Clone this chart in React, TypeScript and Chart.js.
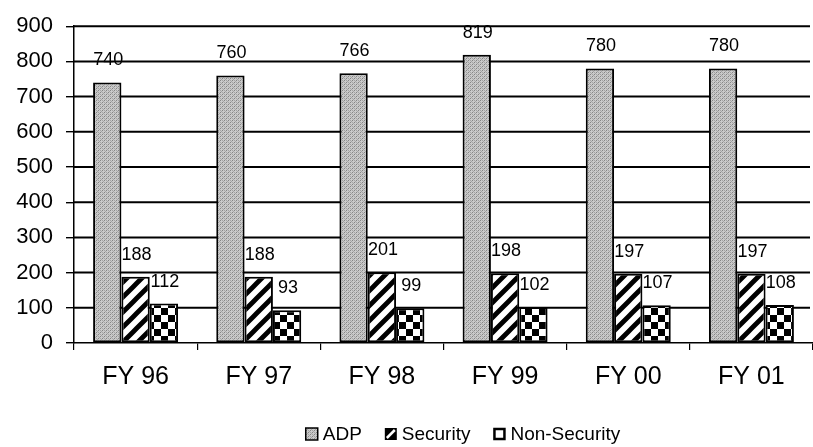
import React, { useEffect, useRef } from "react";
import { Chart, registerables } from "chart.js";

Chart.register(...registerables);

const categories = ["FY 96", "FY 97", "FY 98", "FY 99", "FY 00", "FY 01"];
const adpValues = [740, 760, 766, 819, 780, 780];
const securityValues = [188, 188, 201, 198, 197, 197];
const nonSecurityValues = [112, 93, 99, 102, 107, 108];
const seriesNames = ["ADP", "Security", "Non-Security"];
const yMax = 900;
const yStep = 100;

const FONT = "'Liberation Sans', Arial, Helvetica, sans-serif";

function makeTile(size: number, draw: (c: CanvasRenderingContext2D) => void) {
  const cv = document.createElement("canvas");
  cv.width = size;
  cv.height = size;
  const c = cv.getContext("2d")!;
  draw(c);
  return cv;
}

// grey stipple
function stipplePattern(ctx: CanvasRenderingContext2D) {
  const tile = makeTile(4, (c) => {
    c.fillStyle = "#cacaca";
    c.fillRect(0, 0, 4, 4);
    c.fillStyle = "#858585";
    c.fillRect(0, 0, 1, 1);
    c.fillRect(2, 2, 1, 1);
    c.fillStyle = "#a4a4a4";
    c.fillRect(2, 0, 1, 1);
    c.fillRect(0, 2, 1, 1);
    c.fillRect(1, 3, 1, 1);
    c.fillRect(3, 1, 1, 1);
  });
  return ctx.createPattern(tile, "repeat")!;
}

// wide forward diagonal stripes
function stripePattern(ctx: CanvasRenderingContext2D) {
  const s = 15;
  const tile = makeTile(s, (c) => {
    c.fillStyle = "#fff";
    c.fillRect(0, 0, s, s);
    c.strokeStyle = "#000";
    c.lineWidth = 4.8;
    c.beginPath();
    c.moveTo(-s, s * 2);
    c.lineTo(s * 2, -s);
    c.moveTo(-s, s);
    c.lineTo(s, -s);
    c.moveTo(0, s * 2);
    c.lineTo(s * 2, 0);
    c.stroke();
  });
  return ctx.createPattern(tile, "repeat")!;
}

// large checkerboard
function checkerPattern(ctx: CanvasRenderingContext2D) {
  const q = 7;
  const tile = makeTile(q * 2, (c) => {
    c.fillStyle = "#fff";
    c.fillRect(0, 0, q * 2, q * 2);
    c.fillStyle = "#000";
    c.fillRect(q, 0, q, q);
    c.fillRect(0, q, q, q);
  });
  return ctx.createPattern(tile, "repeat")!;
}

// horizontal value lines across the plot, drawn beneath the bars
const valueGrid = {
  id: "valueGrid",
  beforeDatasetsDraw(chart: any) {
    const ctx = chart.ctx as CanvasRenderingContext2D;
    const area = chart.chartArea;
    const y = chart.scales.y;
    ctx.save();
    ctx.strokeStyle = "#000000";
    ctx.lineWidth = 2;
    for (let v = yStep; v <= yMax; v += yStep) {
      const py = y.getPixelForValue(v);
      ctx.beginPath();
      ctx.moveTo(area.left, py);
      ctx.lineTo(area.right - 3, py);
      ctx.stroke();
    }
    ctx.restore();
  },
};

const valueLabels = {
  id: "valueLabels",
  afterDatasetsDraw(chart: any) {
    const ctx = chart.ctx as CanvasRenderingContext2D;
    ctx.save();
    ctx.font = `18px ${FONT}`;
    ctx.fillStyle = "#000";
    ctx.textAlign = "center";
    ctx.textBaseline = "middle";
    chart.data.datasets.forEach((ds: any, di: number) => {
      const meta = chart.getDatasetMeta(di);
      meta.data.forEach((bar: any, i: number) => {
        ctx.fillText(String(ds.data[i]), bar.x + 1, bar.y - 22);
      });
    });
    ctx.restore();
  },
};

const bottomLegend = {
  id: "bottomLegend",
  afterDraw(chart: any) {
    const ctx = chart.ctx as CanvasRenderingContext2D;
    ctx.save();
    ctx.font = `19px ${FONT}`;
    ctx.textBaseline = "middle";
    const box = 12;
    const gapBox = 5;
    const gapItem = 23;
    const widths = seriesNames.map((n) => box + gapBox + ctx.measureText(n).width);
    const total = widths.reduce((a, b) => a + b, 0) + gapItem * (seriesNames.length - 1);
    let x = 463 - total / 2;
    const cy = 434;
    seriesNames.forEach((name, i) => {
      const top = cy - box / 2;
      if (i === 0) {
        ctx.fillStyle = stipplePattern(ctx);
        ctx.fillRect(x, top, box, box);
        ctx.strokeStyle = "#000";
        ctx.lineWidth = 1.5;
        ctx.strokeRect(x, top, box, box);
      } else if (i === 1) {
        ctx.fillStyle = "#000";
        ctx.fillRect(x, top, box, box);
        ctx.strokeStyle = "#fff";
        ctx.lineWidth = 2.5;
        ctx.beginPath();
        ctx.moveTo(x + 2, top + box - 2);
        ctx.lineTo(x + box - 2, top + 2);
        ctx.stroke();
      } else {
        ctx.fillStyle = "#fff";
        ctx.fillRect(x, top, box, box);
        ctx.strokeStyle = "#000";
        ctx.lineWidth = 2.5;
        ctx.strokeRect(x + 1, top + 1, box - 2, box - 2);
      }
      ctx.fillStyle = "#000";
      ctx.fillText(name, x + box + gapBox, cy + 1);
      x += widths[i] + gapItem;
    });
    ctx.restore();
  },
};

export default function App() {
  const canvasRef = useRef<HTMLCanvasElement | null>(null);

  useEffect(() => {
    const canvas = canvasRef.current!;
    const ctx = canvas.getContext("2d")!;
    const fills = [stipplePattern(ctx), stripePattern(ctx), checkerPattern(ctx)];
    const values = [adpValues, securityValues, nonSecurityValues];

    const chart = new Chart(canvas, {
      type: "bar",
      data: {
        labels: categories,
        datasets: seriesNames.map((name, i) => ({
          label: name,
          data: values[i],
          backgroundColor: fills[i],
          borderColor: "#000",
          borderWidth: 2,
          borderSkipped: false,
          categoryPercentage: 0.69,
          barPercentage: 1.0,
        })),
      },
      options: {
        animation: false,
        responsive: true,
        maintainAspectRatio: false,
        layout: { padding: { top: 21, right: 0, left: 0, bottom: 0 } },
        plugins: {
          legend: { display: false },
          tooltip: { enabled: false },
        },
        scales: {
          x: {
            grid: {
              offset: true,
              drawOnChartArea: false,
              color: "#000",
              tickLength: 7,
              lineWidth: 1.2,
            },
            border: { display: true, color: "#000", width: 1.5 },
            ticks: {
              color: "#000",
              font: { family: FONT, size: 25 },
              padding: 12,
            },
            afterFit(scale: any) {
              scale.height = 104;
            },
          },
          y: {
            min: 0,
            max: yMax,
            ticks: {
              stepSize: yStep,
              color: "#000",
              font: { family: FONT, size: 22 },
              padding: 13,
            },
            grid: {
              drawOnChartArea: false,
              color: "#000",
              lineWidth: 1.4,
              tickLength: 8,
            },
            border: { display: true, color: "#000", width: 1.5 },
            afterFit(scale: any) {
              scale.width = 74;
            },
          },
        },
      },
      plugins: [valueGrid, valueLabels, bottomLegend],
    });

    return () => chart.destroy();
  }, []);

  return (
    <div
      style={{
        position: "fixed",
        left: 0,
        top: 0,
        width: 813,
        height: 447,
        background: "#fff",
      }}
    >
      <canvas ref={canvasRef} />
    </div>
  );
}
